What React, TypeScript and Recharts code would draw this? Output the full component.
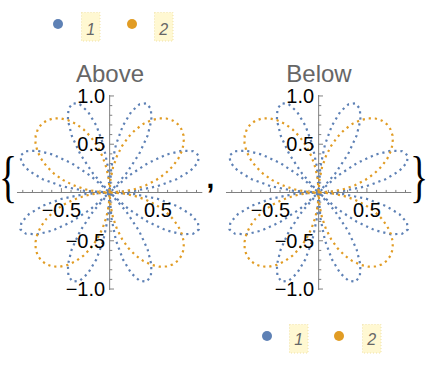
import React from 'react';
import { LineChart, Line, XAxis, YAxis, ReferenceLine, ReferenceDot } from 'recharts';

// polar angles (degrees) at which the radius was read
const ANGLES_DEG = [
  0, 3.75, 7.5, 11.25, 15, 18.75, 22.5, 26.25, 30, 33.75, 37.5, 41.25, 45, 48.75, 52.5, 56.25,
  60, 63.75, 67.5, 71.25, 75, 78.75, 82.5, 86.25, 90, 93.75, 97.5, 101.25, 105, 108.75, 112.5, 116.25,
  120, 123.75, 127.5, 131.25, 135, 138.75, 142.5, 146.25, 150, 153.75, 157.5, 161.25, 165, 168.75, 172.5, 176.25,
  180, 183.75, 187.5, 191.25, 195, 198.75, 202.5, 206.25, 210, 213.75, 217.5, 221.25, 225, 228.75, 232.5, 236.25,
  240, 243.75, 247.5, 251.25, 255, 258.75, 262.5, 266.25, 270, 273.75, 277.5, 281.25, 285, 288.75, 292.5, 296.25,
  300, 303.75, 307.5, 311.25, 315, 318.75, 322.5, 326.25, 330, 333.75, 337.5, 341.25, 345, 348.75, 352.5, 356.25,
  360,
];

// series 1 (blue, eight petals)
const R_SERIES_1 = [
  0, 0.259, 0.5, 0.707, 0.866, 0.966, 1, 0.966, 0.866, 0.707, 0.5, 0.259,
  0, -0.259, -0.5, -0.707, -0.866, -0.966, -1, -0.966, -0.866, -0.707, -0.5, -0.259,
  0, 0.259, 0.5, 0.707, 0.866, 0.966, 1, 0.966, 0.866, 0.707, 0.5, 0.259,
  0, -0.259, -0.5, -0.707, -0.866, -0.966, -1, -0.966, -0.866, -0.707, -0.5, -0.259,
  0, 0.259, 0.5, 0.707, 0.866, 0.966, 1, 0.966, 0.866, 0.707, 0.5, 0.259,
  0, -0.259, -0.5, -0.707, -0.866, -0.966, -1, -0.966, -0.866, -0.707, -0.5, -0.259,
  0, 0.259, 0.5, 0.707, 0.866, 0.966, 1, 0.966, 0.866, 0.707, 0.5, 0.259,
  0, -0.259, -0.5, -0.707, -0.866, -0.966, -1, -0.966, -0.866, -0.707, -0.5, -0.259,
  0,
];

// series 2 (orange, four petals)
const R_SERIES_2 = [
  0, 0.131, 0.259, 0.383, 0.5, 0.609, 0.707, 0.793, 0.866, 0.924, 0.966, 0.991,
  1, 0.991, 0.966, 0.924, 0.866, 0.793, 0.707, 0.609, 0.5, 0.383, 0.259, 0.131,
  0, -0.131, -0.259, -0.383, -0.5, -0.609, -0.707, -0.793, -0.866, -0.924, -0.966, -0.991,
  -1, -0.991, -0.966, -0.924, -0.866, -0.793, -0.707, -0.609, -0.5, -0.383, -0.259, -0.131,
  0, 0.131, 0.259, 0.383, 0.5, 0.609, 0.707, 0.793, 0.866, 0.924, 0.966, 0.991,
  1, 0.991, 0.966, 0.924, 0.866, 0.793, 0.707, 0.609, 0.5, 0.383, 0.259, 0.131,
  0, -0.131, -0.259, -0.383, -0.5, -0.609, -0.707, -0.793, -0.866, -0.924, -0.966, -0.991,
  -1, -0.991, -0.966, -0.924, -0.866, -0.793, -0.707, -0.609, -0.5, -0.383, -0.259, -0.131,
  0,
];

const SERIES_NAMES = ['1', '2'];
const SERIES_COLORS = ['#5e81b5', '#e19c24'];
const PANEL_TITLES = ['Above', 'Below'];

const X_MAJOR = [-0.5, 0.5];
const X_MAJOR_LABELS = ['\u22120.5', '0.5'];
const Y_MAJOR = [-1, -0.5, 0.5, 1];
const Y_MAJOR_LABELS = ['\u22121.0', '\u22120.5', '0.5', '1.0'];
const MINOR = [-0.9, -0.8, -0.7, -0.6, -0.4, -0.3, -0.2, -0.1, 0.1, 0.2, 0.3, 0.4, 0.6, 0.7, 0.8, 0.9];

const X_DOMAIN: [number, number] = [-0.96, 0.96];
const Y_DOMAIN: [number, number] = [-1.01, 1.01];

const toXY = (rs: number[]) =>
  rs.map((r, i) => {
    const t = (ANGLES_DEG[i] * Math.PI) / 180;
    return { x: r * Math.cos(t), y: r * Math.sin(t) };
  });

const DATA_1 = toXY(R_SERIES_1);
const DATA_2 = toXY(R_SERIES_2);

const FONT = '"Liberation Sans", Arial, sans-serif';
const AXIS_COLOR = '#808080';
const MAJOR_LEN = 0.045;
const MINOR_LEN = 0.027;
const DASH = '2.2 3.9';

const M = 20;
const PLOT_W = 185.3;
const PLOT_H = 195;

function Panel({ left }: { left: number }) {
  return (
    <div style={{ position: 'absolute', left, top: 95 - M }}>
      <LineChart width={PLOT_W + 2 * M} height={PLOT_H + 2 * M} margin={{ top: M, right: M, bottom: M, left: M }}>
        <XAxis type="number" dataKey="x" domain={X_DOMAIN} allowDataOverflow hide />
        <YAxis type="number" dataKey="y" domain={Y_DOMAIN} allowDataOverflow hide />
        <ReferenceLine x={0} stroke={AXIS_COLOR} strokeWidth={1} />
        <ReferenceLine y={0} stroke={AXIS_COLOR} strokeWidth={1} />
        {MINOR.map((v) => (
          <ReferenceLine key={'mx' + v} segment={[{ x: v, y: 0 }, { x: v, y: MINOR_LEN }]} stroke={AXIS_COLOR} />
        ))}
        {MINOR.map((v) => (
          <ReferenceLine key={'my' + v} segment={[{ x: 0, y: v }, { x: MINOR_LEN, y: v }]} stroke={AXIS_COLOR} />
        ))}
        {X_MAJOR.map((v) => (
          <ReferenceLine key={'Mx' + v} segment={[{ x: v, y: 0 }, { x: v, y: MAJOR_LEN }]} stroke={AXIS_COLOR} />
        ))}
        {Y_MAJOR.map((v) => (
          <ReferenceLine key={'My' + v} segment={[{ x: 0, y: v }, { x: MAJOR_LEN, y: v }]} stroke={AXIS_COLOR} />
        ))}
        <Line
          data={DATA_1}
          dataKey="y"
          name={SERIES_NAMES[0]}
          type="linear"
          stroke={SERIES_COLORS[0]}
          strokeWidth={2.2}
          strokeDasharray={DASH}
          dot={false}
          activeDot={false}
          isAnimationActive={false}
        />
        <Line
          data={DATA_2}
          dataKey="y"
          name={SERIES_NAMES[1]}
          type="linear"
          stroke={SERIES_COLORS[1]}
          strokeWidth={2.2}
          strokeDasharray={DASH}
          dot={false}
          activeDot={false}
          isAnimationActive={false}
        />
        {X_MAJOR.map((v, i) => (
          <ReferenceDot
            key={'lx' + v}
            x={v}
            y={0}
            r={0}
            fill="none"
            stroke="none"
            label={{ value: X_MAJOR_LABELS[i], position: 'bottom', offset: 10, fill: '#000', fontSize: 20, fontFamily: FONT }}
          />
        ))}
        {Y_MAJOR.map((v, i) => (
          <ReferenceDot
            key={'ly' + v}
            x={0}
            y={v}
            r={0}
            fill="none"
            stroke="none"
            label={{ value: Y_MAJOR_LABELS[i], position: 'left', offset: 4.5, fill: '#000', fontSize: 20, fontFamily: FONT }}
          />
        ))}
      </LineChart>
    </div>
  );
}

export default function App() {
  const legendTop = { dots: [58, 132], boxes: [81, 154], cy: 24, boxY: 12, base: 34.5 };
  const legendBottom = { dots: [267, 339], boxes: [289, 362], cy: 336, boxY: 324, base: 345 };
  const legends = [legendTop, legendBottom];
  const SERIF = '"Liberation Serif", "Times New Roman", serif';
  return (
    <div style={{ position: 'absolute', left: 0, top: 0, width: 429, height: 365, background: '#fff', overflow: 'hidden' }}>
      <Panel left={110 - 92.65 - M} />
      <Panel left={319 - 92.65 - M} />
      <svg width={429} height={365} style={{ position: 'absolute', left: 0, top: 0, pointerEvents: 'none' }}>
        <text x={110} y={82} textAnchor="middle" fontSize={24} fill="#666" fontFamily={FONT}>
          {PANEL_TITLES[0]}
        </text>
        <text x={319} y={82} textAnchor="middle" fontSize={24} fill="#666" fontFamily={FONT}>
          {PANEL_TITLES[1]}
        </text>
        <text transform="translate(-1,196.2) scale(1.05,1.6)" fontSize={36} fill="#000" fontFamily={SERIF}>
          {'{'}
        </text>
        <text transform="translate(410,196.2) scale(1.05,1.6)" fontSize={36} fill="#000" fontFamily={SERIF}>
          {'}'}
        </text>
        <text x={206.5} y={187.5} fontSize={28} fontWeight="bold" fill="#000" fontFamily={FONT}>
          ,
        </text>
        {legends.map((lg, li) => (
          <g key={li}>
            {SERIES_NAMES.map((n, i) => (
              <g key={n}>
                <circle cx={lg.dots[i]} cy={lg.cy} r={5} fill={SERIES_COLORS[i]} />
                <rect
                  x={lg.boxes[i] + 0.5}
                  y={lg.boxY + 0.5}
                  width={18.5}
                  height={28.5}
                  fill="#fff8d2"
                  stroke="#f0e2a8"
                  strokeDasharray="1 2"
                />
                <text
                  x={lg.boxes[i] + 9.75}
                  y={lg.base}
                  textAnchor="middle"
                  fontSize={16}
                  fontStyle="italic"
                  fill="#666"
                  fontFamily={FONT}
                >
                  {n}
                </text>
              </g>
            ))}
          </g>
        ))}
      </svg>
    </div>
  );
}
